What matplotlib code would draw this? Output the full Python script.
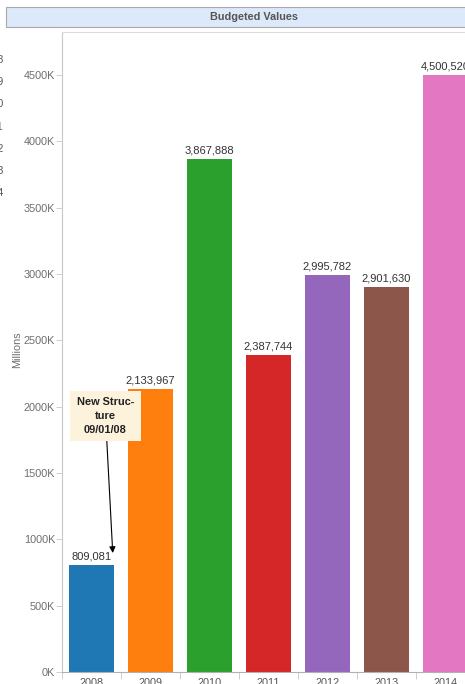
import matplotlib
matplotlib.use('Agg')
import matplotlib.pyplot as plt
from matplotlib.patches import Rectangle
from matplotlib.ticker import FuncFormatter, MultipleLocator

plt.rcParams['font.family'] = ['Liberation Sans', 'DejaVu Sans']

# --- data ---
years = ['2008', '2009', '2010', '2011', '2012', '2013', '2014']
budgets = [809081, 2133967, 3867888, 2387744, 2995782, 2901630, 4500520]
bar_colors = ['#1f77b4', '#ff7f0e', '#2ca02c', '#d62728',
              '#9467bd', '#8c564b', '#e377c2']
note_text = 'New Struc-\nture\n09/01/08'

W, H = 465, 684
fig = plt.figure(figsize=(W / 100, H / 100), dpi=100)
fig.patch.set_facecolor('white')

# plot pane (right side runs past the edge of the figure)
ax = fig.add_axes([62 / W, (H - 672) / H, 413 / W, 640 / H])
x = list(range(len(years)))
ax.bar(x, budgets, width=0.746, color=bar_colors, zorder=2)

ax.set_xlim(-0.5, len(years) - 0.5)
ax.set_ylim(0, 640 / 66.33 * 500000)

for xi, v in zip(x, budgets):
    ax.annotate(f'{v:,}', (xi, v), xytext=(0, 2.5), textcoords='offset points',
                ha='center', va='bottom', fontsize=8, color='#333333')

# axis styling
ax.spines['right'].set_visible(False)
ax.spines['left'].set_color('#c8c8c8')
ax.spines['top'].set_color('#dcdcdc')
ax.spines['bottom'].set_color('#b0b0b0')
for sp in ax.spines.values():
    sp.set_linewidth(0.8)

ax.yaxis.set_major_locator(MultipleLocator(500000))
ax.yaxis.set_major_formatter(FuncFormatter(lambda v, p: f'{int(round(v / 1000))}K'))
ax.tick_params(axis='y', length=4, width=0.6, color='#c8c8c8', pad=1,
               labelsize=7.8, labelcolor='#6e6e6e')

ax.set_xticks(x)
ax.set_xticklabels(years)
ax.set_xticks([i - 0.5 for i in range(len(years) + 1)], minor=True)
ax.tick_params(axis='x', which='major', length=0, pad=4,
               labelsize=7.8, labelcolor='#555555')
ax.tick_params(axis='x', which='minor', length=5, width=0.6, color='#c8c8c8')

ax.set_ylabel('Millions', fontsize=7.8, color='#6e6e6e')
ax.yaxis.set_label_coords(-40 / 413, (672 - 350) / 640)

# note on the first year
ax.annotate(note_text, xy=(0.36, 897000), xytext=(0.237, 1929700),
            ha='center', va='center', fontsize=7.9, fontweight='bold',
            color='#222222', linespacing=1.45,
            bbox=dict(boxstyle='square,pad=0.6', fc='#fdf2dc', ec='none'),
            arrowprops=dict(arrowstyle='-|>', color='black', lw=0.8,
                            mutation_scale=9, shrinkA=0, shrinkB=0),
            zorder=5)

# header band
fig.patches.append(Rectangle((6 / W, (H - 27) / H), 520 / W, 19.5 / H,
                             transform=fig.transFigure, fc='#dce9fa',
                             ec='#a8a8a8', lw=0.8))
fig.text(254 / W, (H - 17.5) / H, 'Budgeted Values', ha='center', va='center',
         fontsize=7.8, fontweight='bold', color='#555555')

# legend entries of the neighbouring pane, cut at the left edge
for i, yr in enumerate(years):
    fig.text(3.5 / W, (H - (60 + i * 22.2)) / H, yr, ha='right', va='center',
             fontsize=7.6, color='#555555')

fig.savefig('out.png', dpi=100)
